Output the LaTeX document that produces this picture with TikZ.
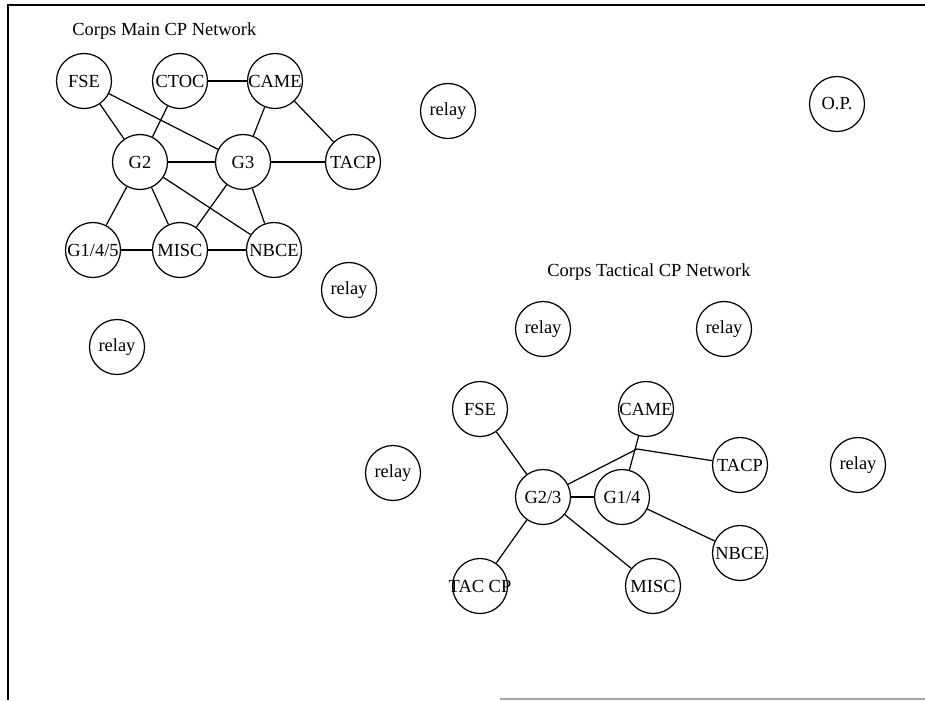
\documentclass[tikz,border=0pt]{standalone}
\usepackage{fontspec}
\setmainfont{Liberation Serif}
\begin{document}
\begin{tikzpicture}[x=0.02cm,y=-0.02cm,
  unit/.style={circle,draw,line width=0.7pt,minimum size=1.1cm,inner sep=0pt},
  link/.style={line width=0.7pt},
  title/.style={inner sep=0pt,anchor=west},
  every label/.style={inner sep=0pt,font=\fontsize{10.5}{12}\selectfont},
  every node/.append style={font=\fontsize{10.5}{12}\selectfont}]
\useasboundingbox (0,0) rectangle (925,700);
% page frame
\draw[line width=1pt] (8,700) -- (8,5) -- (925,5);
\draw[line width=0.8pt,black!35] (500,699) -- (925,699);

% Corps main command post
\node[title] (mtitle) at (72,31) {Corps Main CP Network};
\node[unit,label=center:FSE] (mFSE) at (84,81) {};
\node[unit,label=center:CTOC] (mCTOC) at (180,81) {};
\node[unit,label=center:CAME] (mCAME) at (275,81) {};
\node[unit,label=center:G2] (mG2) at (140,162) {};
\node[unit,label=center:G3] (mG3) at (243,162) {};
\node[unit,label=center:TACP] (mTACP) at (353,162) {};
\node[unit,label=center:G1/4/5] (mG145) at (93,250) {};
\node[unit,label=center:MISC] (mMISC) at (180,250) {};
\node[unit,label=center:NBCE] (mNBCE) at (274,250) {};

\draw[link] (mFSE) -- (mG2);
\draw[link] (mFSE) -- (mG3);
\draw[link] (mCTOC) -- (mG2);
\draw[link] (mCTOC) -- (mCAME);
\draw[link] (mCAME) -- (mG3);
\draw[link] (mCAME) -- (mTACP);
\draw[link] (mG2) -- (mG3);
\draw[link] (mG3) -- (mTACP);
\draw[link] (mG2) -- (mG145);
\draw[link] (mG2) -- (mMISC);
\draw[link] (mG2) -- (mNBCE);
\draw[link] (mG3) -- (mMISC);
\draw[link] (mG3) -- (mNBCE);
\draw[link] (mG145) -- (mMISC);
\draw[link] (mMISC) -- (mNBCE);

% relays and observation post
\node[unit,label=center:relay] (r1) at (448,111) {};
\node[unit,label=center:O.P.] (op) at (837,104) {};
\node[unit,label=center:relay] (r2) at (349,290) {};
\node[unit,label=center:relay] (r3) at (117,347) {};
\node[unit,label=center:relay] (r4) at (543,329) {};
\node[unit,label=center:relay] (r5) at (724,329) {};
\node[unit,label=center:relay] (r6) at (393,473) {};
\node[unit,label=center:relay] (r7) at (858,465) {};

% Corps tactical command post
\node[title] (ttitle) at (547,272) {Corps Tactical CP Network};
\node[unit,label=center:FSE] (tFSE) at (480,409) {};
\node[unit,label=center:CAME] (tCAME) at (646,409) {};
\node[unit,label=center:TACP] (tTACP) at (740,465) {};
\node[unit,label=center:G2/3] (tG23) at (543,497) {};
\node[unit,label=center:G1/4] (tG14) at (622,497) {};
\node[unit,label=center:NBCE] (tNBCE) at (740,553) {};
\node[unit,label=center:TAC CP] (tTACCP) at (480,586) {};
\node[unit,label=center:MISC] (tMISC) at (653,586) {};
\coordinate (tbend) at (637,449);

\draw[link] (tFSE) -- (tG23);
\draw[link] (tG23) -- (tTACCP);
\draw[link] (tG23) -- (tMISC);
\draw[link] (tG23) -- (tG14);
\draw[link] (tG14) -- (tNBCE);
\draw[link] (tCAME) -- (tG14);
\draw[link] (tG23) -- (tbend) -- (tTACP);
\end{tikzpicture}
\end{document}
